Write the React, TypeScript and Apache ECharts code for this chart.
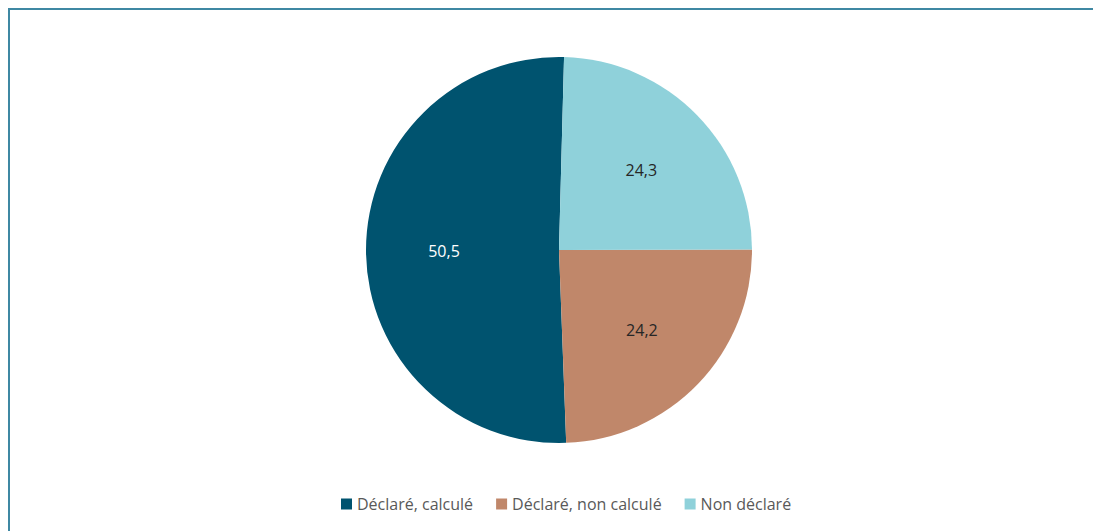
import React, { useEffect, useRef } from "react";
import * as echarts from "echarts";

const categories = ["Déclaré, calculé", "Déclaré, non calculé", "Non déclaré"];
const values = [50.5, 24.2, 24.3];
const colors = ["#00536F", "#C0876A", "#8FD1DA"];
const labelColors = ["#FFFFFF", "#262626", "#262626"];

export default function App() {
  const ref = useRef<HTMLDivElement>(null);
  useEffect(() => {
    if (!ref.current) return;
    document.body.style.overflow = "hidden";
    const chart = echarts.init(ref.current, undefined, { renderer: "svg" });
    const fmt = (p: any) => String(p.value).replace(".", ",");
    chart.setOption({
      animation: false,
      color: colors,
      legend: {
        data: categories,
        top: 481,
        left: 326,
        icon: "rect",
        itemWidth: 11,
        itemHeight: 11,
        itemGap: 23,
        textStyle: { fontFamily: "Open Sans", fontSize: 16, color: "#595959" },
      },
      series: [
        {
          type: "pie",
          center: [549, 240],
          radius: [0, 193],
          startAngle: 88.5,
          clockwise: false,
          label: { show: false },
          labelLine: { show: false },
          data: categories.map((name, i) => ({
            name,
            value: values[i],
            itemStyle: { color: colors[i] },
          })),
        },
        {
          type: "pie",
          silent: true,
          center: [549, 240],
          radius: [0, 224],
          startAngle: 88.5,
          clockwise: false,
          itemStyle: { color: "rgba(0,0,0,0)" },
          labelLine: { show: false },
          data: categories.map((name, i) => ({
            name,
            value: values[i],
            itemStyle: { color: "rgba(0,0,0,0)" },
            label: {
              show: true,
              position: "inside",
              formatter: fmt,
              color: labelColors[i],
              fontFamily: "Open Sans",
              fontSize: 16,
            },
          })),
        },
      ],
    });
    return () => chart.dispose();
  }, []);
  return (
    <div
      style={{
        width: 1093,
        height: 523,
        boxSizing: "border-box",
        borderTop: "2px solid #3F88A3",
        borderLeft: "2px solid #3F88A3",
      }}
    >
      <div ref={ref} style={{ width: 1091, height: 521 }} />
    </div>
  );
}
